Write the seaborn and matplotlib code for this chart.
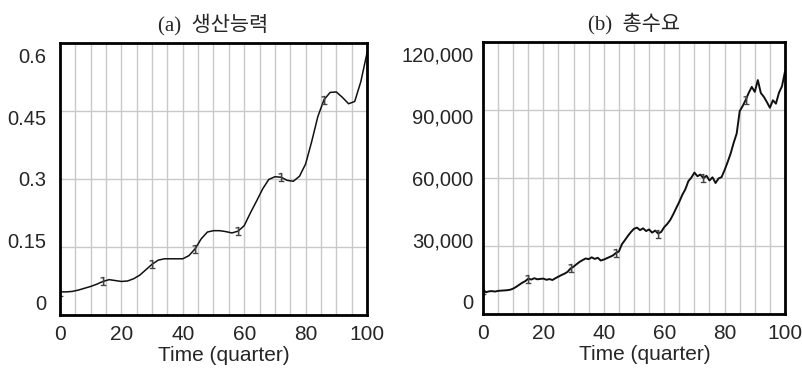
import numpy as np
import pandas as pd
import matplotlib
matplotlib.use("Agg")
import matplotlib.pyplot as plt
import matplotlib.transforms as mtransforms
import seaborn as sns

# ---------------- data ----------------
title_a = "(a)  생산능력"
title_b = "(b)  총수요"
x_label = "Time (quarter)"

time_a = list(range(0, 101, 2))
capacity = [0.051, 0.051, 0.052, 0.055, 0.059, 0.063, 0.068, 0.074, 0.078, 0.076,
            0.074, 0.075, 0.080, 0.088, 0.100, 0.112, 0.121, 0.124, 0.124, 0.124,
            0.124, 0.131, 0.146, 0.168, 0.183, 0.186, 0.186, 0.184, 0.181, 0.185,
            0.197, 0.225, 0.251, 0.278, 0.299, 0.305, 0.304, 0.297, 0.295, 0.306,
            0.333, 0.383, 0.438, 0.475, 0.491, 0.492, 0.480, 0.466, 0.471, 0.515,
            0.578]

time_b = list(range(0, 101))
demand = [10800, 9600, 10000, 10100, 9900, 10200, 10300, 10400, 10500, 10700,
          11200, 12000, 12900, 13800, 14500, 15600, 15200, 15800, 15300, 15500,
          15600, 15100, 15400, 15000, 15800, 16500, 17200, 17800, 18600, 20100,
          20900, 22000, 23000, 23800, 24500, 24200, 25000, 24300, 24800, 23600,
          24000, 24600, 25200, 25800, 26900, 27600, 30800, 32600, 34500, 36200,
          37600, 38100, 37000, 37800, 36600, 37300, 35900, 36800, 35500, 36200,
          38300, 39700, 41500, 44000, 46800, 49500, 52600, 55000, 58600, 60200,
          62400, 60800, 61500, 59900, 61000, 58900, 60300, 57800, 59800, 60400,
          63500, 67000, 70800, 75500, 79600, 89500, 91800, 94500, 97600, 100200,
          98000, 103200, 97500, 95800, 93500, 91000, 94300, 92800, 97600, 100500,
          107000]

x_ticks = [0, 20, 40, 60, 80, 100]
x_minor = list(range(0, 101, 5))
y_ticks_a = [0, 0.15, 0.3, 0.45, 0.6]
y_labels_a = ["0", "0.15", "0.3", "0.45", "0.6"]
y_ticks_b = [0, 30000, 60000, 90000, 120000]
y_labels_b = ["0", "30,000", "60,000", "90,000", "120,000"]

marker_idx_a = [0, 7, 15, 22, 29, 36, 43]
marker_idx_b = [0, 15, 29, 44, 58, 73, 87]

df_a = pd.DataFrame({"t": time_a, "v": capacity})
df_b = pd.DataFrame({"t": time_b, "v": demand})

# ---------------- style ----------------
sns.set_style("white")
plt.rcParams["font.family"] = ["Liberation Sans", "DejaVu Sans"]

W, H = 803, 368
fig = plt.figure(figsize=(W / 100, H / 100), dpi=100)
ax_a = fig.add_axes([60 / W, 53 / H, 307 / W, 272 / H])
ax_b = fig.add_axes([483 / W, 54 / H, 302 / W, 272 / H])

grid_col = "#c9c9c9"


def style_axis(ax, df, yticks, ylabels, ymax, title, markidx, ypad, lw):
    ax.set_axisbelow(True)
    sns.lineplot(data=df, x="t", y="v", ax=ax, color="#111111", linewidth=lw,
                 marker="$1$", markevery=markidx, markersize=6.5,
                 markeredgewidth=0.2, markerfacecolor="#444444",
                 markeredgecolor="#444444")
    ax.set_xlim(0, 100)
    ax.set_ylim(0, ymax)
    ax.set_xticks(x_ticks)
    ax.set_xticks(x_minor, minor=True)
    ax.set_yticks(yticks)
    ax.set_yticklabels(ylabels)
    ax.grid(True, which="both", axis="x", color=grid_col, linewidth=1.0)
    ax.grid(True, which="major", axis="y", color=grid_col, linewidth=1.0)
    ax.tick_params(axis="both", which="both", length=0)
    ax.tick_params(axis="y", labelsize=14.5, pad=ypad)
    ax.tick_params(axis="x", labelsize=15, pad=7)
    for s in ax.spines.values():
        s.set_visible(True)
        s.set_color("black")
        s.set_linewidth(2.0)
    ax.set_xlabel(x_label, fontsize=15, labelpad=0)
    ax.xaxis.set_label_coords(0.535, -0.115)
    ax.set_ylabel("")
    ax.set_title(title, fontsize=15, pad=9,
                 family=["Liberation Serif", "Noto Sans CJK KR"])
    # Vensim-style inset placement of the y labels
    n = len(yticks)
    for i, tk in enumerate(ax.yaxis.get_major_ticks()):
        f = i / (n - 1)
        dy = 12.5 * (1 - 2 * f) / 100.0
        off = mtransforms.ScaledTranslation(0, dy, fig.dpi_scale_trans)
        tk.label1.set_transform(tk.label1.get_transform() + off)


style_axis(ax_a, df_a, y_ticks_a, y_labels_a, 0.6, title_a, marker_idx_a, 10, 1.1)
style_axis(ax_b, df_b, y_ticks_b, y_labels_b, 120000, title_b, marker_idx_b, 7, 1.4)

fig.savefig("out.png", dpi=100)
